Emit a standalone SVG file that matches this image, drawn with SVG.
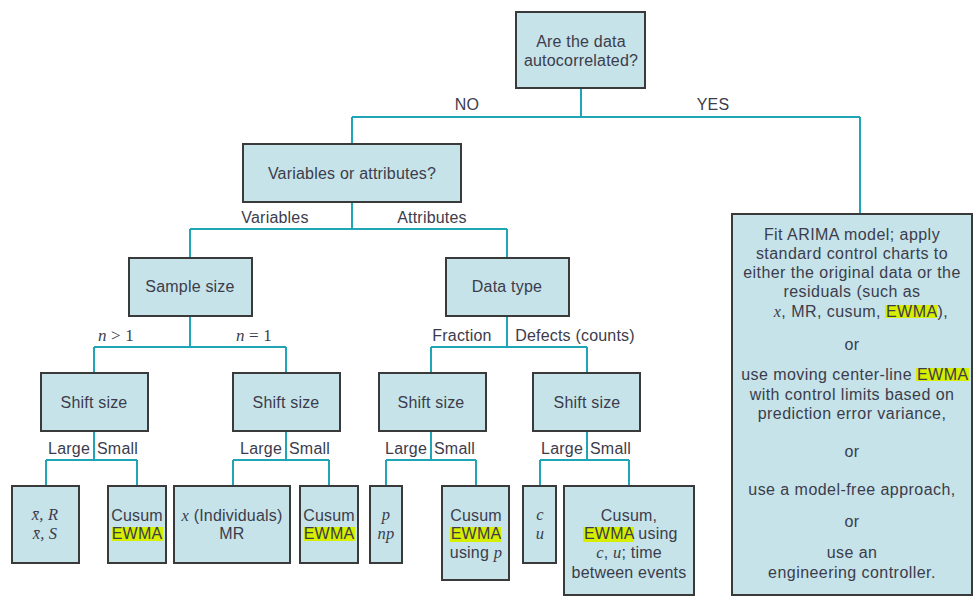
<svg xmlns="http://www.w3.org/2000/svg" width="974" height="597" viewBox="0 0 974 597">
<style>
.box{fill:#c5e3e8;stroke:#3a3a3a;stroke-width:2}
.c{fill:none;stroke:#1fa5b5;stroke-width:2}
text{font-family:"Liberation Sans",Arial,sans-serif;font-size:16px;fill:#3c3c4c;text-anchor:middle;letter-spacing:0.2px}
.r{letter-spacing:0.45px}
.m{font-family:"Liberation Serif","Times New Roman",serif;font-style:italic}
.lm{font-size:16.5px}
.hl{fill:#d6ee00}
.s{text-anchor:start}
.e{text-anchor:end}
</style>
<rect width="974" height="597" fill="#ffffff"/>
<g id="connectors">
<path class="c" d="M581,88V117M352,117H860M352,117V144M860,117V214"/>
<path class="c" d="M352,202V229M190,229H507M190,229V258M507,229V258"/>
<path class="c" d="M190,316V347M94,347H286M94,347V373M286,347V373"/>
<path class="c" d="M507,316V347M431,347H587M431,347V373M587,347V373"/>
<path class="c" d="M94,431V460M46,460H137M46,460V486M137,460V486"/>
<path class="c" d="M286,431V460M233,460H329M233,460V486M329,460V486"/>
<path class="c" d="M431,431V460M386,460H476M386,460V486M476,460V486"/>
<path class="c" d="M587,431V460M540,460H629M540,460V486M629,460V486"/>
</g>
<g id="edge-labels">
<text x="467" y="110">NO</text>
<text x="713" y="110">YES</text>
<text x="275" y="223">Variables</text>
<text x="432" y="223">Attributes</text>
<text x="116" y="341" class="m" style="font-size:17px">n<tspan style="font-style:normal"> &gt; 1</tspan></text>
<text x="254" y="341" class="m" style="font-size:17px">n<tspan style="font-style:normal"> = 1</tspan></text>
<text x="462" y="341">Fraction</text>
<text x="575" y="341">Defects (counts)</text>
<text x="90" y="454" class="e">Large</text>
<text x="97" y="454" class="s">Small</text>
<text x="282" y="454" class="e">Large</text>
<text x="289" y="454" class="s">Small</text>
<text x="427" y="454" class="e">Large</text>
<text x="434" y="454" class="s">Small</text>
<text x="583" y="454" class="e">Large</text>
<text x="590" y="454" class="s">Small</text>
</g>
<g id="n-autocorr">
<rect class="box" x="516" y="12" width="129" height="76"/>
<text x="581" y="47">Are the data</text>
<text x="581" y="66">autocorrelated?</text>
</g>
<g id="n-varattr">
<rect class="box" x="243" y="144" width="218" height="58"/>
<text x="352" y="179">Variables or attributes?</text>
</g>
<g id="n-arima">
<rect class="box" x="732" y="214" width="240" height="381"/>
<rect class="hl" x="885" y="305" width="52" height="13"/>
<rect class="hl" x="916" y="368" width="53" height="13"/>
<text x="852" y="240" class="r">Fit ARIMA model; apply</text>
<text x="852" y="259" class="r">standard control charts to</text>
<text x="852" y="278" class="r">either the original data or the</text>
<text x="852" y="297" class="r">residuals (such as</text>
<text x="881" y="317" class="r e"><tspan class="m">x</tspan>, MR, cusum,</text>
<text x="886" y="317" class="r s">EWMA),</text>
<text x="852" y="350" class="r">or</text>
<text x="912" y="380" class="r e">use moving center-line</text>
<text x="917" y="380" class="r s">EWMA</text>
<text x="852" y="400" class="r">with control limits based on</text>
<text x="852" y="419" class="r">prediction error variance,</text>
<text x="852" y="457" class="r">or</text>
<text x="852" y="495" class="r">use a model-free approach,</text>
<text x="852" y="527" class="r">or</text>
<text x="852" y="558" class="r">use an</text>
<text x="852" y="578" class="r">engineering controller.</text>
</g>
<g id="n-samplesize">
<rect class="box" x="129" y="258" width="123" height="58"/>
<text x="190" y="292">Sample size</text>
</g>
<g id="n-datatype">
<rect class="box" x="446" y="258" width="123" height="58"/>
<text x="507" y="292">Data type</text>
</g>
<g id="n-shift1">
<rect class="box" x="41" y="373" width="107" height="58"/>
<text x="94" y="408">Shift size</text>
</g>
<g id="n-shift2">
<rect class="box" x="233" y="373" width="107" height="58"/>
<text x="286" y="408">Shift size</text>
</g>
<g id="n-shift3">
<rect class="box" x="379" y="373" width="107" height="58"/>
<text x="431" y="408">Shift size</text>
</g>
<g id="n-shift4">
<rect class="box" x="533" y="373" width="107" height="58"/>
<text x="587" y="408">Shift size</text>
</g>
<g id="n-xbar">
<rect class="box" x="12" y="486" width="67" height="77"/>
<text x="45" y="520" class="m lm">x̄, R</text>
<text x="45" y="539" class="m lm">x̄, S</text>
</g>
<g id="n-cusum1">
<rect class="box" x="108" y="486" width="58" height="77"/>
<rect class="hl" x="112" y="527" width="51" height="14"/>
<text x="137" y="521">Cusum</text>
<text x="137" y="539">EWMA</text>
</g>
<g id="n-indiv">
<rect class="box" x="174" y="486" width="116" height="77"/>
<text x="232" y="521"><tspan class="m lm">x</tspan> (Individuals)</text>
<text x="232" y="539">MR</text>
</g>
<g id="n-cusum2">
<rect class="box" x="300" y="486" width="58" height="77"/>
<rect class="hl" x="304" y="527" width="51" height="14"/>
<text x="329" y="521">Cusum</text>
<text x="329" y="539">EWMA</text>
</g>
<g id="n-pnp">
<rect class="box" x="370" y="486" width="32" height="77"/>
<text x="386" y="520" class="m lm">p</text>
<text x="386" y="539" class="m lm">np</text>
</g>
<g id="n-cusum3">
<rect class="box" x="442" y="486" width="67" height="94"/>
<rect class="hl" x="450" y="527" width="51" height="15"/>
<text x="476" y="521">Cusum</text>
<text x="476" y="539">EWMA</text>
<text x="476" y="558">using <tspan class="m lm">p</tspan></text>
</g>
<g id="n-cu">
<rect class="box" x="523" y="486" width="33" height="77"/>
<text x="540" y="520" class="m lm">c</text>
<text x="540" y="539" class="m lm">u</text>
</g>
<g id="n-cusum4">
<rect class="box" x="564" y="486" width="130" height="109"/>
<rect class="hl" x="583" y="527" width="51" height="15"/>
<text x="629" y="521">Cusum,</text>
<text x="584" y="539" class="s">EWMA using</text>
<text x="629" y="558"><tspan class="m lm">c</tspan>, <tspan class="m lm">u</tspan>; time</text>
<text x="629" y="578">between events</text>
</g>
</svg>
